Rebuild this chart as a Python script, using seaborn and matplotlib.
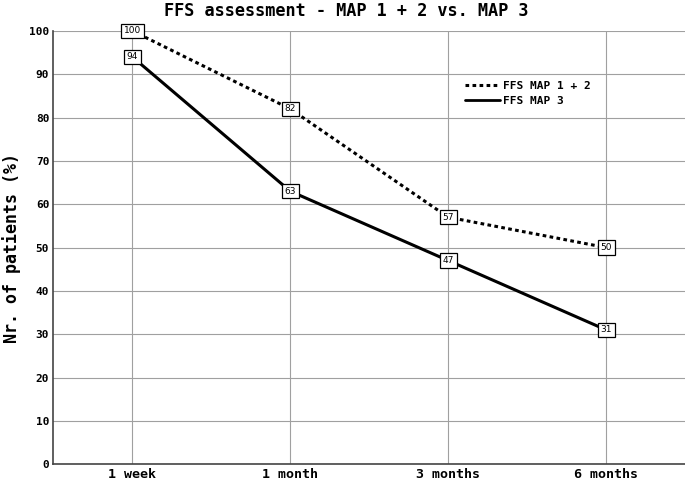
import matplotlib
matplotlib.use("Agg")
import matplotlib.pyplot as plt
import pandas as pd
import seaborn as sns

periods = ["1 week", "1 month", "3 months", "6 months"]
map12 = [100, 82, 57, 50]
map3 = [94, 63, 47, 31]
series_names = ["FFS MAP 1 + 2", "FFS MAP 3"]

df = pd.DataFrame({
    "period": periods * 2,
    "value": map12 + map3,
    "series": [series_names[0]] * 4 + [series_names[1]] * 4,
})

sns.set_style("white")
plt.rcParams["font.family"] = ["DejaVu Sans Mono", "DejaVu Sans"]
plt.rcParams["font.weight"] = "bold"
for k in ("text.color", "axes.labelcolor", "xtick.labelcolor", "ytick.labelcolor"):
    plt.rcParams[k] = "black"

fig = plt.figure(figsize=(6.85, 4.83), dpi=100)
ax = fig.add_axes([0.078, 0.039, 0.922, 0.897])

sns.lineplot(data=df, x="period", y="value", style="series", hue="series",
             palette={series_names[0]: "black", series_names[1]: "black"},
             dashes={series_names[0]: (1.2, 1.1), series_names[1]: ""},
             linewidth=2.2, sort=False, ax=ax, legend=False, zorder=3)

for vals in (map12, map3):
    for i, v in enumerate(vals):
        ax.text(i, v, f"{v}", ha="center", va="center", fontsize=6.5,
                family="DejaVu Sans", fontweight="normal", zorder=5,
                bbox=dict(boxstyle="square,pad=0.3", fc="white", ec="black", lw=0.9))

ax.set_xlim(-0.5, 3.5)
ax.set_ylim(0, 100)
ax.set_yticks(range(0, 101, 10))
ax.set_xticks(range(len(periods)))
ax.set_xticklabels(periods, fontsize=9.5, fontweight="bold")
ax.set_xticks([0.5, 1.5, 2.5], minor=True)
ax.tick_params(axis="x", which="major", length=0, pad=3)
ax.tick_params(axis="x", which="minor", length=3, color="#888")
ax.tick_params(axis="y", labelsize=8, length=0, pad=3)
for lab in ax.get_yticklabels():
    lab.set_fontweight("bold")

ax.grid(True, color="#a0a0a0", lw=0.8, zorder=0)
ax.set_axisbelow(True)
for s in ("top", "right"):
    ax.spines[s].set_visible(False)
for s in ("left", "bottom"):
    ax.spines[s].set_color("#444")
    ax.spines[s].set_linewidth(1.2)

ax.set_xlabel("")
ax.set_ylabel("Nr. of patients (%)", fontsize=12, fontweight="bold", labelpad=6)
fig.suptitle("FFS assessment - MAP 1 + 2 vs. MAP 3", fontsize=12.2,
             fontweight="bold", x=0.505, y=0.995)

h1, = ax.plot([], [], color="black", lw=2.2, dashes=(1.2, 1.1))
h2, = ax.plot([], [], color="black", lw=2.0)
ax.legend([h1, h2], series_names, loc="upper left", bbox_to_anchor=(0.652, 0.885),
          frameon=False, handlelength=3.1, handletextpad=0.3, labelspacing=0.5,
          borderaxespad=0, borderpad=0,
          prop={"family": "DejaVu Sans Mono", "weight": "bold", "size": 8})

fig.savefig("out.png", dpi=100)
